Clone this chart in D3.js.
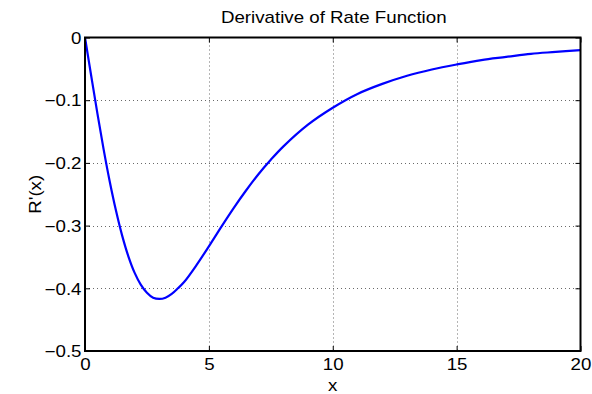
<!DOCTYPE html>
<html>
<head>
<meta charset="utf-8">
<script src="https://cdn.jsdelivr.net/npm/d3@7"></script>
<style>
  html, body { margin: 0; padding: 0; background: #fff; }
  svg { display: block; font-family: "Liberation Sans", Arial, Helvetica, sans-serif; }
</style>
</head>
<body>
<svg id="chart" width="592" height="394"></svg>
<script>
// ---- data ----
const xValues = [0, 0.25, 0.5, 0.75, 1, 1.25, 1.5, 1.75, 2, 2.25, 2.5, 2.75, 3, 3.25, 3.5, 3.75, 4, 4.5, 5, 5.5, 6, 6.5, 7, 7.5, 8, 9, 10, 11, 12, 13, 14, 15, 16, 17, 18, 19, 20];
const yValues = [0, -0.061, -0.121, -0.178, -0.230, -0.276, -0.316, -0.349, -0.375, -0.394, -0.407, -0.415, -0.417, -0.415, -0.409, -0.400, -0.390, -0.363, -0.333, -0.302, -0.272, -0.244, -0.218, -0.195, -0.174, -0.139, -0.112, -0.090, -0.074, -0.061, -0.051, -0.043, -0.036, -0.031, -0.026, -0.023, -0.020];
const xTicks = [0, 5, 10, 15, 20];
const yTicks = [0, -0.1, -0.2, -0.3, -0.4, -0.5];
const titleText = "Derivative of Rate Function";
const xLabelText = "x";
const yLabelText = "R'(x)";

// ---- layout ----
const L = 85, R = 580.5, T = 37.5, B = 351;
const SX = 1.17; // horizontal stretch of glyphs seen in the reference
const FS = 16;

const svg = d3.select("#chart");
const x = d3.scaleLinear().domain([0, 20]).range([L, R]);
const y = d3.scaleLinear().domain([-0.5, 0]).range([B, T]);

const fmtY = d => d === 0 ? "0" : d3.format(".1f")(d);

// grid
const grid = svg.append("g").attr("stroke", "#6a6a6a").attr("stroke-width", 1).attr("stroke-dasharray", "1,3");
grid.selectAll("line.gx").data(xTicks.filter(d => d > 0 && d < 20)).join("line")
  .attr("class", "gx")
  .attr("x1", d => Math.round(x(d)) + 0.5).attr("x2", d => Math.round(x(d)) + 0.5)
  .attr("y1", T).attr("y2", B);
grid.selectAll("line.gy").data(yTicks.filter(d => d < 0 && d > -0.5)).join("line")
  .attr("class", "gy")
  .attr("y1", d => Math.round(y(d)) + 0.5).attr("y2", d => Math.round(y(d)) + 0.5)
  .attr("x1", L).attr("x2", R);

// curve
const line = d3.line().x((d, i) => x(xValues[i])).y(d => y(d)).curve(d3.curveCatmullRom.alpha(0.5));
svg.append("path").datum(yValues)
  .attr("d", line)
  .attr("fill", "none").attr("stroke", "#0000ff").attr("stroke-width", 2.2)
  .attr("stroke-linejoin", "round");

// axes
function styleAxis(g) {
  g.select(".domain").remove();
  g.selectAll(".tick line").attr("stroke", "#000").attr("stroke-width", 1);
  g.selectAll(".tick text").attr("fill", "#000").attr("font-size", FS)
    .attr("font-family", "Liberation Sans, Arial, sans-serif");
}

const xAxis = svg.append("g").attr("transform", `translate(0,${B})`)
  .call(d3.axisBottom(x).tickValues(xTicks).tickFormat(d3.format("d")).tickSizeInner(-5).tickSizeOuter(0).tickPadding(8))
  .call(styleAxis);
xAxis.selectAll(".tick text").attr("transform", `scale(${SX},1)`);

svg.append("g").attr("transform", `translate(0,${T})`)
  .call(d3.axisTop(x).tickValues(xTicks).tickFormat("").tickSizeInner(-5).tickSizeOuter(0))
  .call(styleAxis);

const yAxis = svg.append("g").attr("transform", `translate(${L},0)`)
  .call(d3.axisLeft(y).tickValues(yTicks).tickFormat(fmtY).tickSizeInner(-5).tickSizeOuter(0).tickPadding(3))
  .call(styleAxis);
yAxis.selectAll(".tick text").attr("dy", "0.36em").attr("transform", `scale(${SX},1)`);

svg.append("g").attr("transform", `translate(${R},0)`)
  .call(d3.axisRight(y).tickValues(yTicks).tickFormat("").tickSizeInner(-5).tickSizeOuter(0))
  .call(styleAxis);

// box
svg.append("rect").attr("x", L).attr("y", T).attr("width", R - L).attr("height", B - T)
  .attr("fill", "none").attr("stroke", "#000").attr("stroke-width", 2);

// title and labels
svg.append("text").text(titleText)
  .attr("transform", `translate(${(L + R) / 2 + 1},22.7) scale(${SX},1)`)
  .attr("text-anchor", "middle").attr("font-size", FS).attr("fill", "#000");

svg.append("text").text(xLabelText)
  .attr("transform", `translate(${(L + R) / 2},390.5) scale(${SX},1)`)
  .attr("text-anchor", "middle").attr("font-size", FS).attr("fill", "#000");

svg.append("text").text(yLabelText)
  .attr("transform", `translate(41,${(T + B) / 2}) rotate(-90) scale(${SX},1)`)
  .attr("text-anchor", "middle").attr("font-size", FS).attr("fill", "#000");
</script>
</body>
</html>
